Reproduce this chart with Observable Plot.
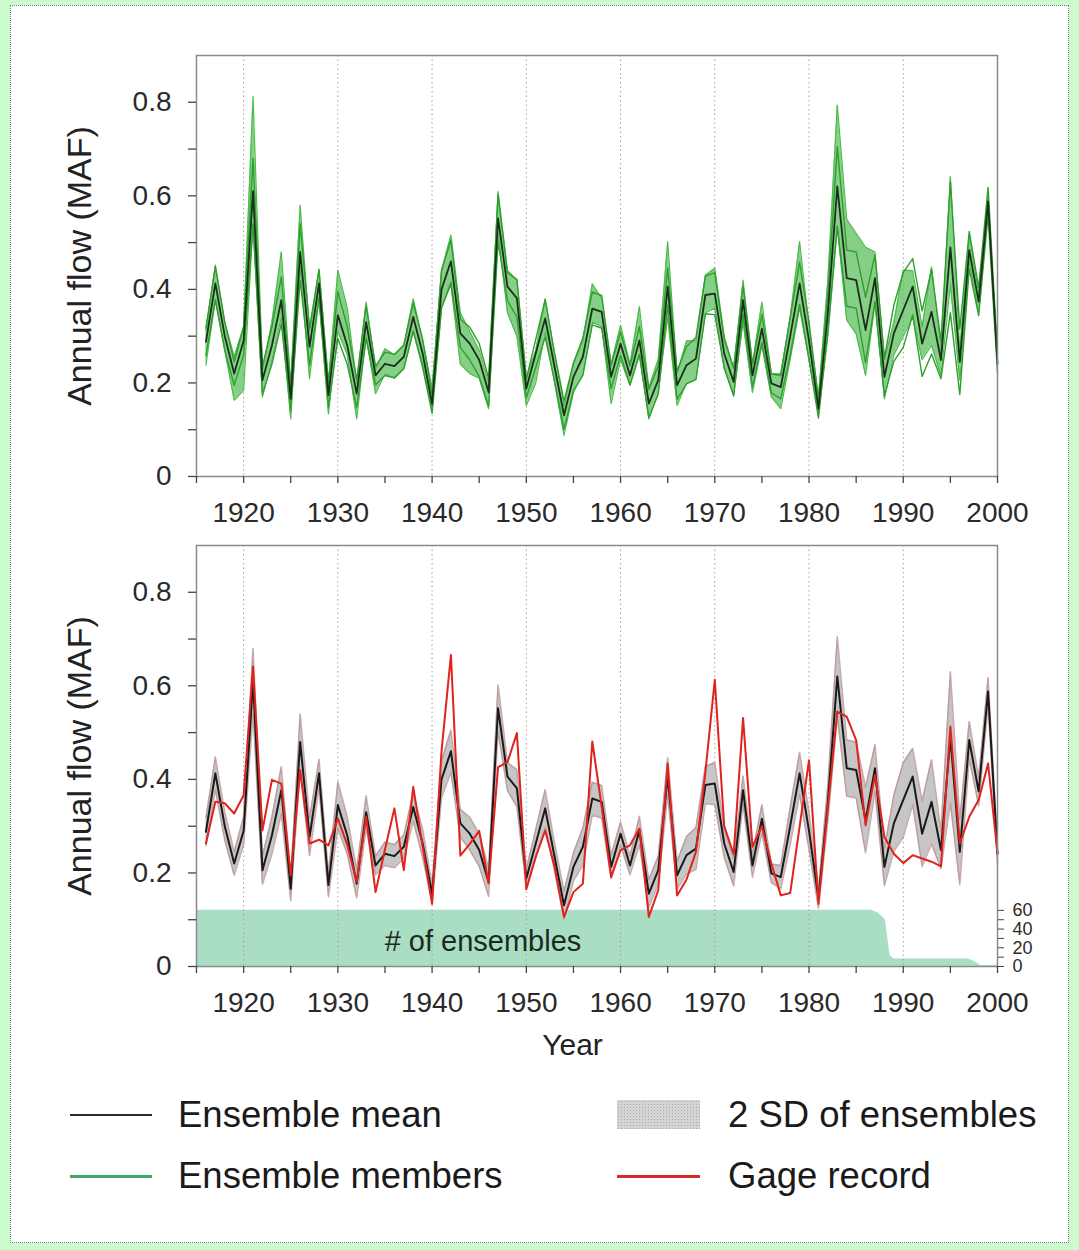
<!DOCTYPE html>
<html><head><meta charset="utf-8">
<script src="https://cdn.jsdelivr.net/npm/d3@7"></script>
<script src="https://cdn.jsdelivr.net/npm/@observablehq/plot@0.6"></script>
<style>
html,body{margin:0;padding:0;}
body{width:1079px;height:1250px;background:#ccfccc;position:relative;overflow:hidden;font-family:"Liberation Sans",Arial,Helvetica,sans-serif;}
#panel{position:absolute;left:10px;top:5px;width:1057px;height:1236px;background:#fff;border:1px dotted #777;}
#top,#bottom{position:absolute;left:0;}
#top{top:0}
#bottom{top:540px}
.lt{position:absolute;font-size:36.5px;line-height:40px;height:40px;color:#1a1a1a;white-space:nowrap;}
.ll{position:absolute;height:2px;}
</style></head><body>
<div id="panel"></div>
<div id="top"></div>
<div id="bottom"></div>
<div id="legend"></div>
<script>
// ---------------- data ----------------
const years = [1916,1917,1918,1919,1920,1921,1922,1923,1924,1925,1926,1927,1928,1929,1930,1931,1932,1933,1934,1935,1936,1937,1938,1939,1940,1941,1942,1943,1944,1945,1946,1947,1948,1949,1950,1951,1952,1953,1954,1955,1956,1957,1958,1959,1960,1961,1962,1963,1964,1965,1966,1967,1968,1969,1970,1971,1972,1973,1974,1975,1976,1977,1978,1979,1980,1981,1982,1983,1984,1985,1986,1987,1988,1989,1990,1991,1992,1993,1994,1995,1996,1997,1998,1999,2000];

// ensemble mean (MAF)
const ensembleMean = [0.288,0.413,0.300,0.220,0.290,0.610,0.206,0.280,0.377,0.166,0.480,0.277,0.413,0.174,0.345,0.280,0.177,0.330,0.216,0.241,0.236,0.256,0.341,0.263,0.155,0.400,0.460,0.306,0.284,0.249,0.180,0.552,0.406,0.381,0.188,0.263,0.338,0.234,0.131,0.213,0.256,0.359,0.352,0.213,0.284,0.216,0.291,0.156,0.206,0.406,0.195,0.238,0.252,0.388,0.391,0.263,0.202,0.377,0.216,0.316,0.199,0.191,0.300,0.413,0.290,0.145,0.350,0.620,0.424,0.420,0.313,0.424,0.213,0.306,0.356,0.406,0.284,0.352,0.249,0.490,0.245,0.484,0.374,0.588,0.241];

// gage record (MAF)
const gageRecord = [0.263,0.352,0.349,0.327,0.366,0.641,0.291,0.399,0.391,0.195,0.420,0.263,0.271,0.259,0.316,0.260,0.181,0.320,0.159,0.250,0.338,0.206,0.384,0.256,0.134,0.460,0.666,0.237,0.262,0.290,0.178,0.426,0.437,0.499,0.165,0.234,0.291,0.213,0.106,0.159,0.177,0.481,0.341,0.191,0.249,0.259,0.295,0.106,0.163,0.434,0.152,0.186,0.245,0.415,0.613,0.300,0.240,0.531,0.256,0.300,0.220,0.152,0.157,0.299,0.441,0.134,0.340,0.545,0.534,0.484,0.302,0.409,0.277,0.241,0.221,0.238,0.231,0.224,0.214,0.513,0.263,0.320,0.356,0.434,0.241];

// half-width of the 2 SD band (MAF)
const twoSD = [0.030,0.035,0.030,0.025,0.030,0.070,0.030,0.040,0.050,0.025,0.060,0.040,0.030,0.025,0.050,0.040,0.030,0.035,0.020,0.025,0.025,0.025,0.030,0.030,0.020,0.040,0.045,0.030,0.035,0.035,0.030,0.050,0.030,0.040,0.020,0.030,0.040,0.030,0.030,0.030,0.040,0.035,0.035,0.025,0.025,0.020,0.030,0.030,0.030,0.040,0.030,0.040,0.045,0.040,0.045,0.030,0.030,0.030,0.025,0.030,0.020,0.025,0.040,0.045,0.040,0.020,0.040,0.085,0.060,0.060,0.070,0.050,0.040,0.060,0.080,0.060,0.070,0.090,0.040,0.140,0.070,0.040,0.030,0.030,0.020];

// envelope of the ensemble members (MAF)
const memberHigh = [0.313,0.452,0.330,0.256,0.320,0.812,0.227,0.330,0.480,0.200,0.580,0.310,0.441,0.200,0.441,0.360,0.200,0.373,0.230,0.273,0.260,0.280,0.380,0.290,0.190,0.440,0.516,0.350,0.310,0.270,0.200,0.609,0.440,0.420,0.210,0.270,0.380,0.260,0.150,0.240,0.290,0.412,0.380,0.240,0.323,0.240,0.363,0.190,0.250,0.502,0.220,0.290,0.290,0.430,0.445,0.300,0.230,0.420,0.240,0.373,0.220,0.220,0.340,0.502,0.320,0.170,0.420,0.794,0.550,0.520,0.490,0.480,0.250,0.330,0.441,0.440,0.320,0.448,0.270,0.641,0.270,0.516,0.390,0.595,0.250];
const memberLow = [0.238,0.377,0.270,0.163,0.184,0.540,0.170,0.250,0.341,0.123,0.448,0.209,0.380,0.134,0.310,0.260,0.123,0.300,0.177,0.220,0.210,0.230,0.310,0.240,0.145,0.360,0.410,0.240,0.220,0.210,0.145,0.520,0.350,0.300,0.152,0.200,0.310,0.200,0.088,0.180,0.220,0.330,0.320,0.156,0.250,0.195,0.260,0.123,0.180,0.340,0.152,0.200,0.210,0.350,0.360,0.230,0.175,0.330,0.180,0.280,0.170,0.145,0.250,0.360,0.250,0.134,0.300,0.534,0.334,0.305,0.216,0.370,0.166,0.260,0.300,0.340,0.250,0.280,0.216,0.410,0.206,0.460,0.350,0.575,0.240];

// number of ensembles (right axis of the lower panel)
const countYears = [1915,1986.6,1987.4,1988.1,1988.6,1989.0,1996.9,1997.6,1998.2,2000];
const countValues = [60,60,57,50,12,8,8,5,1,1];

// axis ticks and labels
const xTickYears = [1915,1920,1925,1930,1935,1940,1945,1950,1955,1960,1965,1970,1975,1980,1985,1990,1995,2000];
const xLabelYears = [1920,1930,1940,1950,1960,1970,1980,1990,2000];
const gridYears = [1920,1930,1940,1950,1960,1970,1980,1990];
const yTickValues = [0,0.1,0.2,0.3,0.4,0.5,0.6,0.7,0.8];
const yTickLabels = {"0":"0","0.2":"0.2","0.4":"0.4","0.6":"0.6","0.8":"0.8"};
const countTickValues = [0,10,20,30,40,50,60];
const countTickLabels = {"0":"0","20":"20","40":"40","60":"60"};
const yTitle = "Annual flow (MAF)";
const xTitle = "Year";
const countTitle = "# of ensembles";
const legendItems = ["Ensemble mean","Ensemble members","2 SD of ensembles","Gage record"];

// ---------------- build ----------------
const FONT = '"Liberation Sans", Arial, Helvetica, sans-serif';
const countToFlow = 0.12 / 60;   // 60 ensembles occupy 0.12 MAF of the left scale
const rows = years.map((year, i) => ({
  year, mean: ensembleMean[i], gage: gageRecord[i], sd: twoSD[i],
  hi: memberHigh[i], lo: memberLow[i]
}));
const countRows = countYears.map((year, i) => ({year, n: countValues[i]}));

const W = 1079;
const common = {
  width: W,
  marginLeft: 196, marginRight: 82,
  x: {domain: [1915, 2000]},
  y: {domain: [0, 0.9]},
  style: {fontFamily: FONT, fontSize: "28px", color: "#2a2a2a", background: "transparent", overflow: "visible"}
};

function axes() {
  return [
    Plot.axisX({ticks: xTickYears, tickFormat: d => xLabelYears.includes(d) ? String(d) : "",
      tickSize: 7, tickPadding: 19, label: null, stroke: "#444", strokeWidth: 1.3}),
    Plot.axisY({ticks: yTickValues, tickFormat: d => yTickLabels[String(+d.toFixed(1))] ?? "",
      tickSize: 8, tickPadding: 17, label: null, stroke: "#444", strokeWidth: 1.3}),
    Plot.text([yTitle], {frameAnchor: "left", textAnchor: "middle", lineAnchor: "middle",
      dx: -116, rotate: -90, fontSize: 34, fill: "#222", text: d => d})
  ];
}

const grid = Plot.ruleX(gridYears, {stroke: "#a0a0a0", strokeDasharray: "1.5,3", strokeWidth: 1});

const topPlot = Plot.plot({
  ...common,
  height: 540, marginTop: 55, marginBottom: 64,
  marks: [
    grid,
    Plot.areaY(rows, {x: "year", y1: "lo", y2: "hi", fill: "#5ebf5e", fillOpacity: 0.75}),
    Plot.line(rows, {x: "year", y: "hi", stroke: "#4cbc4c", strokeWidth: 1.2}),
    Plot.line(rows, {x: "year", y: "lo", stroke: "#4cbc4c", strokeWidth: 1.2}),
    Plot.line(rows, {x: "year", y: d => d.mean + d.sd, stroke: "#2f9e2f", strokeWidth: 1.4}),
    Plot.line(rows, {x: "year", y: d => d.mean - d.sd, stroke: "#2f9e2f", strokeWidth: 1.4}),
    Plot.line(rows, {x: "year", y: "mean", stroke: "#1c2e1c", strokeWidth: 1.8}),
    Plot.frame({stroke: "#8a8a8a", strokeWidth: 1.5}),
    ...axes()
  ]
});
document.getElementById("top").append(topPlot);

const bottomPlot = Plot.plot({
  ...common,
  height: 560, marginTop: 5, marginBottom: 134,
  marks: [
    Plot.areaY(countRows, {x: "year", y: d => d.n * countToFlow, fill: "#aadec4"}),
    grid,
    Plot.areaY(rows, {x: "year", y1: d => d.mean - d.sd, y2: d => d.mean + d.sd, fill: "#c6c6c6"}),
    Plot.line(rows, {x: "year", y: d => d.mean + d.sd, stroke: "#b98e8e", strokeWidth: 1.5, strokeOpacity: 0.75}),
    Plot.line(rows, {x: "year", y: d => d.mean - d.sd, stroke: "#b98e8e", strokeWidth: 1.5, strokeOpacity: 0.75}),
    Plot.line(rows, {x: "year", y: "mean", stroke: "#1a1a1a", strokeWidth: 2}),
    Plot.line(rows, {x: "year", y: "gage", stroke: "#e0231d", strokeWidth: 2}),
    Plot.text([{t: countTitle, year: 1945.4, v: 0.053}], {x: "year", y: "v", text: "t", fontSize: 29, fill: "#1c2a22"}),
    Plot.text([xTitle], {x: () => 1954.9, frameAnchor: "bottom", lineAnchor: "middle", textAnchor: "middle",
      dy: 79, fontSize: 30, fill: "#222", text: d => d}),
    Plot.frame({stroke: "#8a8a8a", strokeWidth: 1.5}),
    Plot.axisY({anchor: "right", ticks: countTickValues.map(c => c * countToFlow),
      tickFormat: d => countTickLabels[String(Math.round(d / countToFlow))] ?? "",
      tickSize: 6, tickPadding: 9, fontSize: 18, label: null, stroke: "#444"}),
    ...axes()
  ]
});
document.getElementById("bottom").append(bottomPlot);

// ---------------- legend ----------------
const leg = document.getElementById("legend");
function add(html) { leg.insertAdjacentHTML("beforeend", html); }
add(`<div class="ll" style="left:70px;top:1114px;width:82px;background:#2a2a2a"></div>`);
add(`<div class="lt" style="left:178px;top:1095px">${legendItems[0]}</div>`);
add(`<div class="ll" style="left:70px;top:1175px;width:82px;height:2.5px;background:#3fa86a"></div>`);
add(`<div class="lt" style="left:178px;top:1156px">${legendItems[1]}</div>`);
add(`<div style="position:absolute;left:617px;top:1100px;width:83px;height:29px;background-color:#d4d4d4;background-image:radial-gradient(#a8a8a8 0.9px, transparent 1px);background-size:3px 3px"></div>`);
add(`<div class="lt" style="left:728px;top:1095px">${legendItems[2]}</div>`);
add(`<div class="ll" style="left:617px;top:1175px;width:83px;height:2.5px;background:#d42a2a"></div>`);
add(`<div class="lt" style="left:728px;top:1156px">${legendItems[3]}</div>`);
</script>
</body></html>
